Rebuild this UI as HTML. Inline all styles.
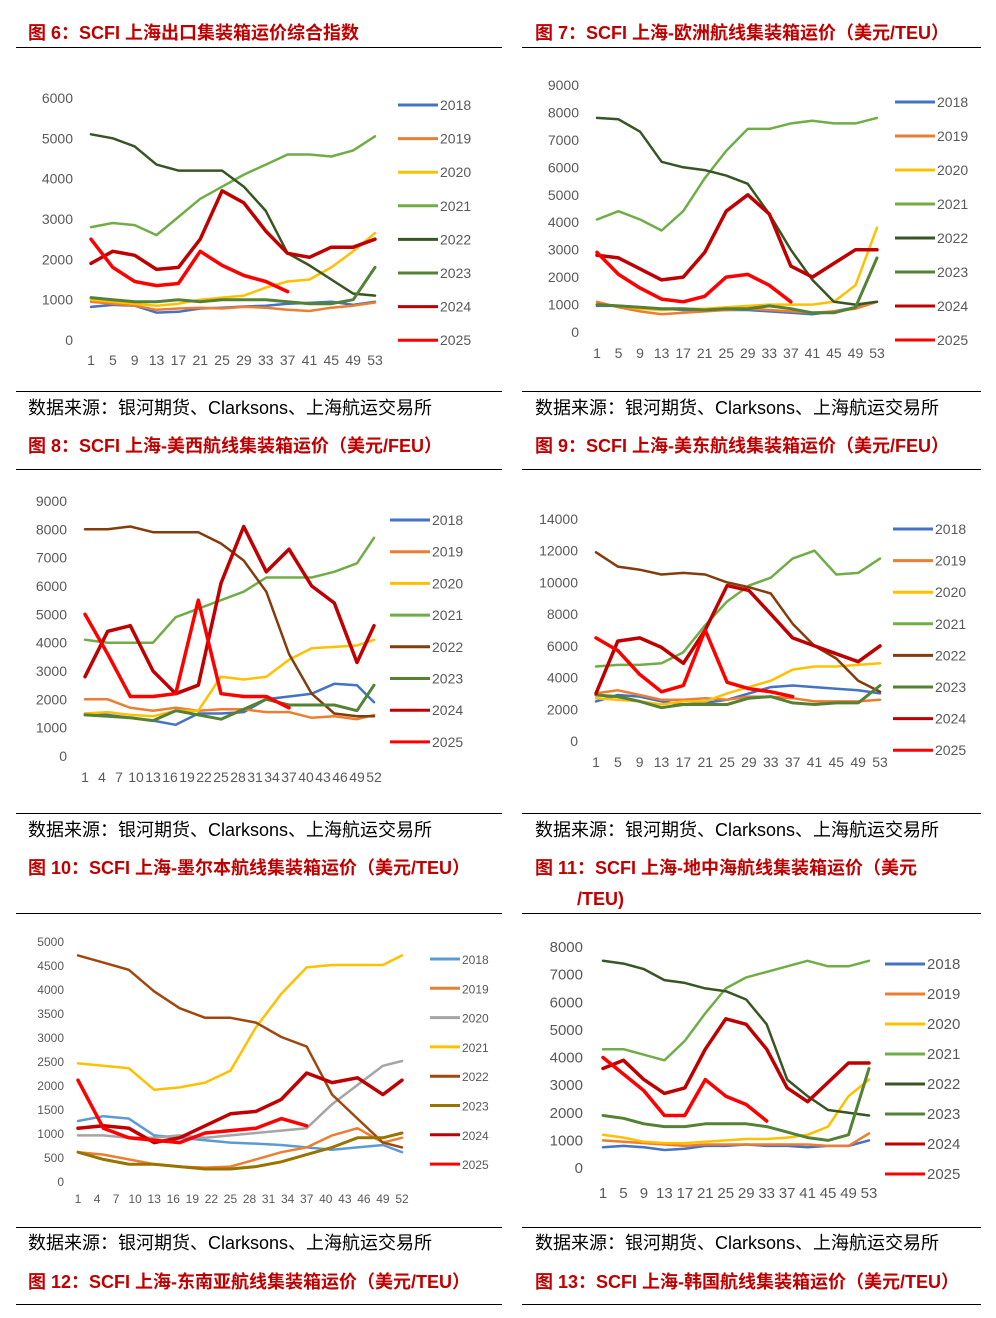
<!DOCTYPE html>
<html><head><meta charset="utf-8">
<style>
html,body{margin:0;padding:0;background:#fff;}
#page{position:relative;width:996px;height:1318px;overflow:hidden;font-family:"Liberation Sans","Noto Sans CJK SC",sans-serif;}
.t{position:absolute;font-size:18px;font-weight:bold;color:#c00000;white-space:nowrap;line-height:22px;}
.s{position:absolute;font-size:18px;color:#000;white-space:nowrap;line-height:22px;}
.hl{position:absolute;height:0;border-top:1.5px solid #000;}
svg{position:absolute;left:0;top:0;}
</style></head><body>
<div id="page">
<div class="t" style="left:28px;top:22px">图 6：SCFI 上海出口集装箱运价综合指数</div>
<div class="t" style="left:535px;top:22px">图 7：SCFI 上海-欧洲航线集装箱运价（美元/TEU）</div>
<div class="hl" style="left:16px;width:486px;top:47px"></div>
<div class="hl" style="left:522px;width:459px;top:47px"></div>
<div class="hl" style="left:16px;width:486px;top:391px"></div>
<div class="hl" style="left:522px;width:459px;top:391px"></div>
<div class="s" style="left:28px;top:397px">数据来源：银河期货、Clarksons、上海航运交易所</div>
<div class="s" style="left:535px;top:397px">数据来源：银河期货、Clarksons、上海航运交易所</div>
<div class="t" style="left:28px;top:435px">图 8：SCFI 上海-美西航线集装箱运价（美元/FEU）</div>
<div class="t" style="left:535px;top:435px">图 9：SCFI 上海-美东航线集装箱运价（美元/FEU）</div>
<div class="hl" style="left:16px;width:486px;top:469px"></div>
<div class="hl" style="left:522px;width:459px;top:469px"></div>
<div class="hl" style="left:16px;width:486px;top:813px"></div>
<div class="hl" style="left:522px;width:459px;top:813px"></div>
<div class="s" style="left:28px;top:819px">数据来源：银河期货、Clarksons、上海航运交易所</div>
<div class="s" style="left:535px;top:819px">数据来源：银河期货、Clarksons、上海航运交易所</div>
<div class="t" style="left:28px;top:857px">图 10：SCFI 上海-墨尔本航线集装箱运价（美元/TEU）</div>
<div class="t" style="left:535px;top:857px">图 11：SCFI 上海-地中海航线集装箱运价（美元</div>
<div class="t" style="left:577px;top:888px">/TEU)</div>
<div class="hl" style="left:16px;width:486px;top:913px"></div>
<div class="hl" style="left:522px;width:459px;top:913px"></div>
<div class="hl" style="left:16px;width:486px;top:1227px"></div>
<div class="hl" style="left:522px;width:459px;top:1227px"></div>
<div class="s" style="left:28px;top:1232px">数据来源：银河期货、Clarksons、上海航运交易所</div>
<div class="s" style="left:535px;top:1232px">数据来源：银河期货、Clarksons、上海航运交易所</div>
<div class="t" style="left:28px;top:1271px">图 12：SCFI 上海-东南亚航线集装箱运价（美元/TEU）</div>
<div class="t" style="left:535px;top:1271px">图 13：SCFI 上海-韩国航线集装箱运价（美元/TEU）</div>
<div class="hl" style="left:16px;width:486px;top:1304px"></div>
<div class="hl" style="left:522px;width:459px;top:1304px"></div>
<svg id="svg" width="996" height="1318" xmlns="http://www.w3.org/2000/svg"></svg>
</div>
<script>
const years = ["2018","2019","2020","2021","2022","2023","2024","2025"];
// Fig 6
const f6Ticks = [0,1000,2000,3000,4000,5000,6000];
const f6X = [1,5,9,13,17,21,25,29,33,37,41,45,49,53];
const f6_2018 = [820,870,850,680,700,780,800,830,850,900,920,950,870,950];
const f6_2019 = [950,900,850,750,780,800,780,820,800,750,720,800,850,930];
const f6_2020 = [1000,950,900,850,900,1000,1050,1100,1300,1450,1500,1800,2200,2650];
const f6_2021 = [2800,2900,2850,2600,3050,3500,3800,4100,4350,4600,4600,4550,4700,5050];
const f6_2022 = [5100,5000,4800,4350,4200,4200,4200,3800,3200,2150,1850,1500,1150,1100];
const f6_2023 = [1050,1000,950,950,1000,950,1000,1000,1000,950,900,900,1000,1800];
const f6_2024 = [1900,2200,2100,1750,1800,2500,3700,3400,2700,2150,2050,2300,2300,2500];
const f6_2025 = [2500,1800,1450,1350,1400,2200,1850,1600,1450,1200,null,null,null,null];
// Fig 7
const f7Ticks = [0,1000,2000,3000,4000,5000,6000,7000,8000,9000];
const f7X = [1,5,9,13,17,21,25,29,33,37,41,45,49,53];
const f7_2018 = [950,950,900,850,800,800,800,800,750,700,650,750,900,1100];
const f7_2019 = [1100,900,750,650,700,750,800,850,800,750,700,750,850,1100];
const f7_2020 = [1000,950,850,800,850,850,900,950,1000,1000,1000,1100,1700,3800];
const f7_2021 = [4100,4400,4100,3700,4400,5600,6600,7400,7400,7600,7700,7600,7600,7800];
const f7_2022 = [7800,7750,7300,6200,6000,5900,5700,5400,4300,3000,1900,1100,1000,1100];
const f7_2023 = [1000,950,900,850,850,800,850,850,950,850,700,700,900,2700];
const f7_2024 = [2800,2700,2300,1900,2000,2900,4400,5000,4300,2400,2000,2500,3000,3000];
const f7_2025 = [2900,2100,1600,1200,1100,1300,2000,2100,1700,1100,null,null,null,null];
// Fig 8
const f8Ticks = [0,1000,2000,3000,4000,5000,6000,7000,8000,9000];
const f8X = [1,5,9,13,17,21,25,29,33,37,41,45,49,52];
const f8_2018 = [1500,1450,1350,1250,1100,1500,1500,1550,2000,2100,2200,2550,2500,1900];
const f8_2019 = [2000,2000,1700,1600,1700,1600,1650,1650,1550,1550,1350,1400,1300,1450];
const f8_2020 = [1500,1550,1450,1400,1600,1600,2800,2700,2800,3400,3800,3850,3900,4100];
const f8_2021 = [4100,4000,4000,4000,4900,5200,5500,5800,6300,6300,6300,6500,6800,7700];
const f8_2022 = [8000,8000,8100,7900,7900,7900,7500,6900,5800,3600,2200,1500,1400,1400];
const f8_2023 = [1450,1400,1350,1250,1600,1450,1300,1650,2000,1800,1800,1800,1600,2500];
const f8_2024 = [2800,4400,4600,3000,2200,2500,6100,8100,6500,7300,6000,5400,3300,4600];
const f8_2025 = [5000,3600,2100,2100,2200,5500,2200,2100,2100,1700,null,null,null,null];
// Fig 9
const f9Ticks = [0,2000,4000,6000,8000,10000,12000,14000];
const f9X = [1,5,9,13,17,21,25,29,33,37,41,45,49,53];
const f9_2018 = [2500,2900,2800,2500,2300,2400,2600,3000,3400,3500,3400,3300,3200,3000];
const f9_2019 = [3000,3200,2900,2600,2600,2700,2600,2800,2800,2700,2500,2500,2500,2600];
const f9_2020 = [2700,2600,2500,2300,2500,2500,3000,3400,3800,4500,4700,4700,4800,4900];
const f9_2021 = [4700,4800,4800,4900,5600,7300,8800,9800,10300,11500,12000,10500,10600,11500];
const f9_2022 = [11900,11000,10800,10500,10600,10500,10000,9700,9300,7400,6000,5200,3800,3100];
const f9_2023 = [2900,2800,2500,2100,2300,2300,2300,2700,2800,2400,2300,2400,2400,3500];
const f9_2024 = [3000,6300,6500,5900,4900,7000,9800,9500,8000,6500,6000,5500,5000,6000];
const f9_2025 = [6500,5700,4200,3100,3500,7000,3700,3300,3100,2800,null,null,null,null];
// Fig 10
const f10Ticks = [0,500,1000,1500,2000,2500,3000,3500,4000,4500,5000];
const f10X = [1,5,9,13,17,21,25,29,33,37,41,45,49,52];
const f10_2018 = [1250,1350,1300,950,900,850,800,780,750,700,650,700,750,600];
const f10_2019 = [600,550,450,350,300,280,300,450,600,700,950,1100,800,900];
const f10_2020 = [950,950,900,900,950,900,950,1000,1050,1100,1600,2000,2400,2500];
const f10_2021 = [2450,2400,2350,1900,1950,2050,2300,3200,3900,4450,4500,4500,4500,4700];
const f10_2022 = [4700,4550,4400,3950,3600,3400,3400,3300,3000,2800,1800,1300,800,700];
const f10_2023 = [600,450,350,350,300,250,250,300,400,550,700,900,900,1000];
const f10_2024 = [1100,1150,1100,800,900,1150,1400,1450,1700,2250,2050,2150,1800,2100];
const f10_2025 = [2100,1100,900,850,800,1000,1050,1100,1300,1150,null,null,null,null];
// Fig 11
const f11Ticks = [0,1000,2000,3000,4000,5000,6000,7000,8000];
const f11X = [1,5,9,13,17,21,25,29,33,37,41,45,49,53];
const f11_2018 = [750,800,750,650,700,800,800,850,800,800,750,800,800,1000];
const f11_2019 = [1000,950,900,850,800,850,850,850,850,850,850,800,800,1250];
const f11_2020 = [1200,1100,950,900,900,950,1000,1050,1050,1100,1200,1500,2600,3200];
const f11_2021 = [4300,4300,4100,3900,4600,5600,6500,6900,7100,7300,7500,7300,7300,7500];
const f11_2022 = [7500,7400,7200,6800,6700,6500,6400,6100,5200,3200,2600,2100,2000,1900];
const f11_2023 = [1900,1800,1600,1500,1500,1600,1600,1600,1500,1300,1100,1000,1200,3600];
const f11_2024 = [3600,3900,3200,2700,2900,4300,5400,5200,4300,2900,2400,3100,3800,3800];
const f11_2025 = [4000,3400,2800,1900,1900,3200,2600,2300,1700,null,null,null,null,null];
const lblA = ["1","5","9","13","17","21","25","29","33","37","41","45","49","53"];
const lblB = ["1","4","7","10","13","16","19","22","25","28","31","34","37","40","43","46","49","52"];

const NS="http://www.w3.org/2000/svg";
const svg=document.getElementById('svg');
function mk(tag,attrs,parent){const e=document.createElementNS(NS,tag);for(const k in attrs)e.setAttribute(k,attrs[k]);(parent||svg).appendChild(e);return e;}
const palA=["#4472c4","#ed7d31","#ffc000","#70ad47","#375623","#548235","#c00000","#ff0000"];
const palB=["#4472c4","#ed7d31","#ffc000","#70ad47","#843c0c","#548235","#c00000","#ff0000"];
const palC=["#5b9bd5","#ed7d31","#a5a5a5","#ffc000","#9e480e","#997300","#c00000","#ff0000"];
function chart(id,g,ticks,xs,series,pal,labels,labelWeeks){
  const grp=mk('g',{});
  
  
  const ymax=ticks[ticks.length-1];
  const Y=v=>g.y0+(g.y1-g.y0)*(1-v/ymax);
  const X=w=>g.x0+(g.x1-g.x0)*(w-1)/(g.wmax-1);
  ticks.forEach(t=>{const e=mk('text',{x:g.ax,y:Y(t)+5,'text-anchor':'end','font-size':g.fs,fill:'#595959'},grp);e.textContent=String(t);
    
    });
  labels.forEach((l,i)=>{const e=mk('text',{x:X(labelWeeks[i]),y:g.ly,'text-anchor':'middle','font-size':g.fs,fill:'#595959'},grp);e.textContent=l;
    
    });
  series.forEach((s,k)=>{
    let d='';let pen=false;
    s.forEach((v,i)=>{if(v==null){pen=false;return;}d+=(pen?'L':'M')+X(xs[i]).toFixed(1)+','+Y(v).toFixed(1);pen=true;});
    const p=mk('path',{d:d,fill:'none',stroke:pal[k],'stroke-width':k>=6?3.5:(k==5?3:2.5),'stroke-linejoin':'round','stroke-linecap':'round'},grp);
    
    
    const ly=g.lg0+k*g.lgs;
    const ln=mk('line',{x1:g.lgx,x2:g.lgx+g.lgw,y1:ly,y2:ly,stroke:pal[k],'stroke-width':3},grp);
    
    
    const tx=mk('text',{x:g.lgx+g.lgw+2,y:ly+5,'font-size':g.fs,fill:'#595959'},grp);tx.textContent=years[k];
    
    
  });
}
const wA=[1,5,9,13,17,21,25,29,33,37,41,45,49,53];
const wB=[1,4,7,10,13,16,19,22,25,28,31,34,37,40,43,46,49,52];
chart('fig6-chart',{x0:91,x1:375,wmax:53,y0:98,y1:340,ax:73,ly:365,fs:14,lgx:398,lgw:40,lg0:105,lgs:33.6},f6Ticks,f6X,[f6_2018,f6_2019,f6_2020,f6_2021,f6_2022,f6_2023,f6_2024,f6_2025],palA,lblA,wA);
chart('fig7-chart',{x0:597,x1:877,wmax:53,y0:85,y1:332,ax:579,ly:358,fs:14,lgx:895,lgw:40,lg0:102,lgs:34},f7Ticks,f7X,[f7_2018,f7_2019,f7_2020,f7_2021,f7_2022,f7_2023,f7_2024,f7_2025],palA,lblA,wA);
chart('fig8-chart',{x0:85,x1:374,wmax:52,y0:501,y1:756,ax:67,ly:782,fs:14,lgx:390,lgw:40,lg0:520,lgs:31.7},f8Ticks,f8X,[f8_2018,f8_2019,f8_2020,f8_2021,f8_2022,f8_2023,f8_2024,f8_2025],palB,lblB,wB);
chart('fig9-chart',{x0:596,x1:880,wmax:53,y0:519,y1:741,ax:578,ly:767,fs:14,lgx:893,lgw:40,lg0:529,lgs:31.6},f9Ticks,f9X,[f9_2018,f9_2019,f9_2020,f9_2021,f9_2022,f9_2023,f9_2024,f9_2025],palB,lblA,wA);
chart('fig10-chart',{x0:78,x1:402,wmax:52,y0:941,y1:1181,ax:64,ly:1203,fs:12,lgx:430,lgw:30,lg0:959,lgs:29.3},f10Ticks,f10X,[f10_2018,f10_2019,f10_2020,f10_2021,f10_2022,f10_2023,f10_2024,f10_2025],palC,lblB,wB);
chart('fig11-chart',{x0:603,x1:869,wmax:53,y0:947,y1:1168,ax:583,ly:1198,fs:15,lgx:885,lgw:40,lg0:964,lgs:30},f11Ticks,f11X,[f11_2018,f11_2019,f11_2020,f11_2021,f11_2022,f11_2023,f11_2024,f11_2025],palA,lblA,wA);
</script>
</body></html>
